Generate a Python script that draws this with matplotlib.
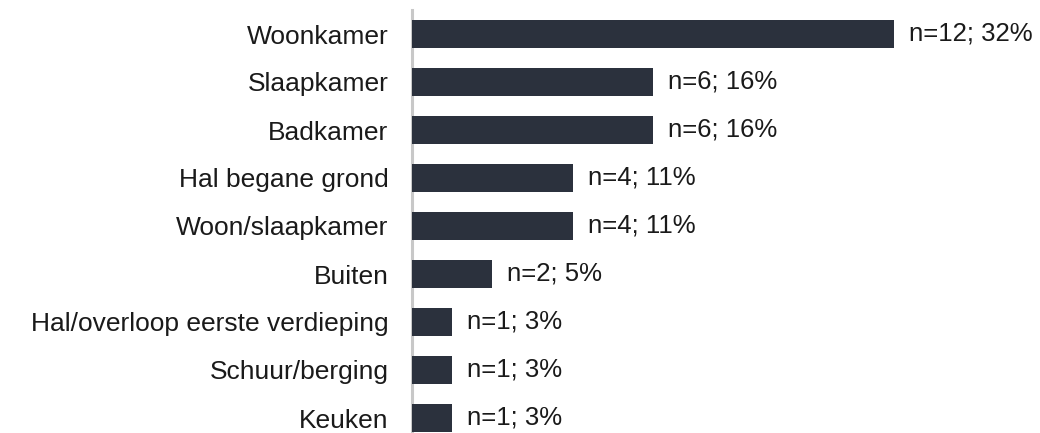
import matplotlib.pyplot as plt

# data
rooms = ["Woonkamer", "Slaapkamer", "Badkamer", "Hal begane grond", "Woon/slaapkamer",
         "Buiten", "Hal/overloop eerste verdieping", "Schuur/berging", "Keuken"]
counts = [12, 6, 6, 4, 4, 2, 1, 1, 1]
percents = [32, 16, 16, 11, 11, 5, 3, 3, 3]

plt.rcParams['font.family'] = ['Liberation Sans', 'DejaVu Sans']

fig = plt.figure(figsize=(10.4, 4.33), dpi=100)
ax = fig.add_axes([412 / 1040, 0, 1 - 412 / 1040, 1 - 10 / 433])

y = list(range(len(rooms)))
ax.barh(y, counts, height=0.58, color='#2b313d', zorder=2)

for i in y:
    ax.text(counts[i] + 0.37, i, f"n={counts[i]}; {percents[i]}%",
            va='center', ha='left', fontsize=18.5, color='#1a1a1a')

ax.set_xlim(0, 628 / 40.17)
ax.set_ylim(8.3125, -0.5)
ax.set_yticks(y)
ax.set_yticklabels(rooms, fontsize=19, color='#1a1a1a')
ax.tick_params(axis='y', length=0, pad=17)
ax.set_xticks([])

for s in ['top', 'right', 'bottom']:
    ax.spines[s].set_visible(False)
ax.spines['left'].set_color('#c8c8c8')
ax.spines['left'].set_linewidth(2.2)
ax.spines['left'].set_zorder(1)

fig.savefig('out.png', dpi=100)
